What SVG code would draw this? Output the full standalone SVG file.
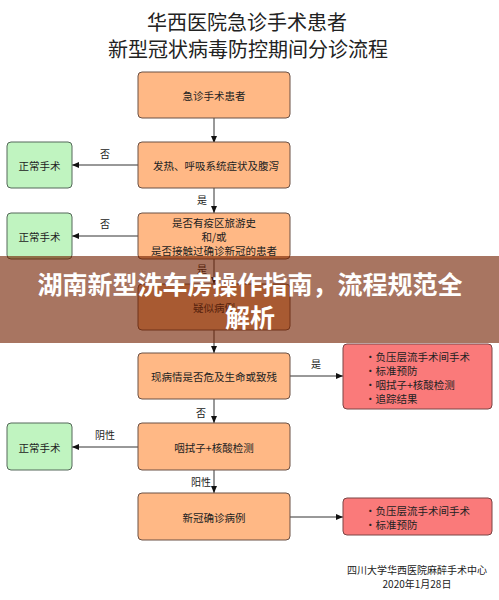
<svg xmlns="http://www.w3.org/2000/svg" width="499" height="600" viewBox="0 0 499 600">
<defs>
<marker id="ah" markerUnits="userSpaceOnUse" markerWidth="8" markerHeight="6" refX="7" refY="3" orient="auto">
<path d="M0,0 L7,3 L0,6 z" fill="#111"/>
</marker>
<style>
text{font-family:"Noto Sans CJK SC","Noto Sans",sans-serif;fill:#222}
.t{font-size:20px;text-anchor:middle}
.n{font-size:10.5px;text-anchor:middle;dominant-baseline:central}
.r{font-size:10.5px;dominant-baseline:central}
.l{font-size:10px;text-anchor:middle;dominant-baseline:central}
.o{fill:#FFB885;stroke:#6b5145;stroke-width:1}
.g{fill:#C0F4C0;stroke:#55685a;stroke-width:1}
.d{fill:#FA7A7A;stroke:#7a4545;stroke-width:1}
.c{stroke:#333;stroke-width:1;fill:none;marker-end:url(#ah)}
.b{font-size:25px;font-weight:bold;text-anchor:middle;fill:#fff}
</style>
</defs>
<rect width="499" height="600" fill="#fff"/>
<text class="t" x="247" y="30">华西医院急诊手术患者</text>
<text class="t" x="248" y="57">新型冠状病毒防控期间分诊流程</text>

<g id="connectors">
<line class="c" x1="214" y1="118" x2="214" y2="143"/>
<line class="c" x1="138" y1="165" x2="72" y2="165"/>
<line class="c" x1="214" y1="188" x2="214" y2="213"/>
<line class="c" x1="138" y1="236" x2="72" y2="236"/>
<line class="c" x1="214" y1="259" x2="214" y2="284"/>
<line class="c" x1="214" y1="330" x2="214" y2="353"/>
<line class="c" x1="290" y1="376" x2="343" y2="376"/>
<line class="c" x1="214" y1="399" x2="214" y2="423"/>
<line class="c" x1="138" y1="447" x2="72" y2="447"/>
<line class="c" x1="214" y1="470" x2="214" y2="493"/>
<line class="c" x1="290" y1="517" x2="343" y2="517"/>
<text class="l" x="105" y="153">否</text>
<text class="l" x="202" y="199">是</text>
<text class="l" x="105" y="223">否</text>
<text class="l" x="202" y="268">是</text>
<text class="l" x="316" y="363">是</text>
<text class="l" x="201" y="412">否</text>
<text class="l" x="105" y="434">阴性</text>
<text class="l" x="201" y="481">阳性</text>
</g>

<g id="n1"><rect class="o" x="138" y="72" width="152" height="46" rx="4"/><text class="n" x="214" y="95">急诊手术患者</text></g>
<g id="n2"><rect class="o" x="138" y="142" width="152" height="46" rx="4"/><text class="n" x="216" y="165">发热、呼吸系统症状及腹泻</text></g>
<g id="g1"><rect class="g" x="7" y="142" width="65" height="46" rx="4"/><text class="n" x="39.5" y="165">正常手术</text></g>
<g id="n3"><rect class="o" x="138" y="213" width="152" height="46" rx="4"/>
<text class="n" x="214" y="222">是否有疫区旅游史</text>
<text class="n" x="214" y="236">和/或</text>
<text class="n" x="214" y="250">是否接触过确诊新冠的患者</text></g>
<g id="g2"><rect class="g" x="7" y="213" width="65" height="46" rx="4"/><text class="n" x="39.5" y="236">正常手术</text></g>
<g id="n4"><rect class="o" x="138" y="284" width="152" height="46" rx="4"/><text class="n" x="214" y="307">疑似病例</text></g>
<g id="n5"><rect class="o" x="138" y="353" width="152" height="46" rx="4"/><text class="n" x="214" y="376">现病情是否危及生命或致残</text></g>
<g id="r1"><rect class="d" x="343" y="344" width="149" height="65" rx="4"/>
<text class="r" x="365" y="356">·负压层流手术间手术</text>
<text class="r" x="365" y="370">·标准预防</text>
<text class="r" x="365" y="384">·咽拭子+核酸检测</text>
<text class="r" x="365" y="398">·追踪结果</text></g>
<g id="n6"><rect class="o" x="138" y="423" width="152" height="47" rx="4"/><text class="n" x="214" y="447">咽拭子+核酸检测</text></g>
<g id="g3"><rect class="g" x="7" y="423" width="65" height="47" rx="4"/><text class="n" x="39.5" y="447">正常手术</text></g>
<g id="n7"><rect class="o" x="138" y="493" width="152" height="47" rx="4"/><text class="n" x="214" y="517">新冠确诊病例</text></g>
<g id="r2"><rect class="d" x="343" y="498" width="149" height="37" rx="4"/>
<text class="r" x="365" y="510">·负压层流手术间手术</text>
<text class="r" x="365" y="524">·标准预防</text></g>

<text class="l" x="417" y="569">四川大学华西医院麻醉手术中心</text>
<text class="l" x="417" y="583">2020年1月28日</text>

<g id="banner">
<rect x="0" y="256" width="499" height="87" fill="#732000" fill-opacity="0.62"/>
<text class="b" x="250" y="294">湖南新型洗车房操作指南，流程规范全</text>
<text class="b" x="250" y="327">解析</text>
</g>
</svg>
